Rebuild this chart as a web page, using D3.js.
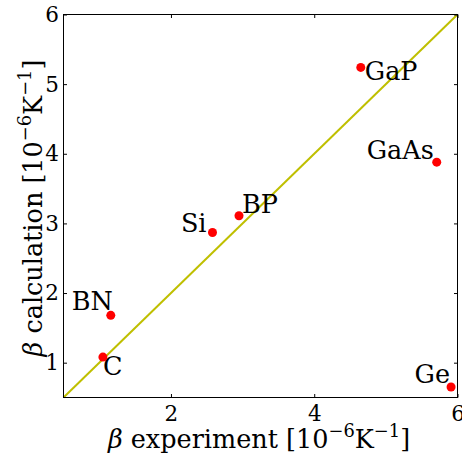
<!DOCTYPE html>
<html><head><meta charset="utf-8">
<script src="https://cdn.jsdelivr.net/npm/d3@7"></script>
<style>body{margin:0;background:#fff}svg{display:block}text{font-family:"DejaVu Serif",serif}</style>
</head><body><svg id="c" width="462" height="458"></svg>
<script>
const materials = ["C","BN","Si","BP","GaP","GaAs","Ge"];
const experiment = [1.05,1.16,2.58,2.95,4.65,5.71,5.91];
const calculation = [1.08,1.68,2.87,3.11,5.24,3.88,0.65];
const xTicks = [2,4,6];
const yTicks = [1,2,3,4,5,6];
const domain = [0.5,6];
// label placement (px offsets from point, anchor)
const labelPlace = [[0,18,"start"],[2,-5,"end"],[-6,0,"end"],[3,-3,"start"],[4,13,"start"],[-3,-3,"end"],[-1,-4,"end"]];

const svg = d3.select("#c");
const L=63.5,R=457.5,T=14.5,B=397.5;
const x = d3.scaleLinear().domain(domain).range([L,R]);
const y = d3.scaleLinear().domain(domain).range([B,T]);

svg.append("line").attr("x1",x(domain[0])).attr("y1",y(domain[0])).attr("x2",x(domain[1])).attr("y2",y(domain[1]))
  .attr("stroke","#bfbf00").attr("stroke-width",2);

const fs=21.5, lfs=25.5;
const ax = (g)=>{g.select(".domain").remove();g.selectAll("text").attr("font-size",fs).attr("fill","#000").attr("font-family","DejaVu Serif");g.selectAll("line").attr("stroke","#000");};
svg.append("g").attr("transform",`translate(0,${B})`).call(d3.axisBottom(x).tickValues(xTicks).tickSize(-3.5).tickPadding(8).tickFormat(d3.format("d"))).call(ax);
svg.append("g").attr("transform",`translate(0,${T})`).call(d3.axisTop(x).tickValues(xTicks).tickSize(-3.5).tickFormat("")).call(ax);
svg.append("g").attr("transform",`translate(${L},0)`).call(d3.axisLeft(y).tickValues(yTicks).tickSize(-3.5).tickPadding(4.5).tickFormat(d3.format("d"))).call(ax);
svg.append("g").attr("transform",`translate(${R},0)`).call(d3.axisRight(y).tickValues(yTicks).tickSize(-3.5).tickFormat("")).call(ax);

svg.append("rect").attr("x",L).attr("y",T).attr("width",R-L).attr("height",B-T).attr("fill","none").attr("stroke","#000").attr("stroke-width",1);

svg.append("g").selectAll("circle").data(materials).join("circle")
  .attr("cx",(d,i)=>x(experiment[i])).attr("cy",(d,i)=>y(calculation[i])).attr("r",4.5).attr("fill","#ff0000");
svg.append("g").selectAll("text").data(materials).join("text")
  .attr("x",(d,i)=>x(experiment[i])+labelPlace[i][0]).attr("y",(d,i)=>y(calculation[i])+labelPlace[i][1])
  .attr("text-anchor",(d,i)=>labelPlace[i][2]).attr("font-size",lfs).text(d=>d);

function label(t, pre){
  const s=lfs*0.7, up=lfs*0.42;
  t.append("tspan").attr("font-style","italic").text("β");
  t.append("tspan").text(pre+" [10");
  t.append("tspan").attr("font-size",s).attr("dy",-up).text("−6");
  t.append("tspan").attr("dy",up).text("K");
  t.append("tspan").attr("font-size",s).attr("dy",-up).text("−1");
  t.append("tspan").attr("dy",up).text("]");
}
const xl = svg.append("text").attr("x",259).attr("y",448).attr("text-anchor","middle").attr("font-size",lfs);
label(xl," experiment");
const yl = svg.append("text").attr("transform",`translate(42,208) rotate(-90)`).attr("text-anchor","middle").attr("font-size",lfs);
label(yl," calculation");
</script></body></html>
